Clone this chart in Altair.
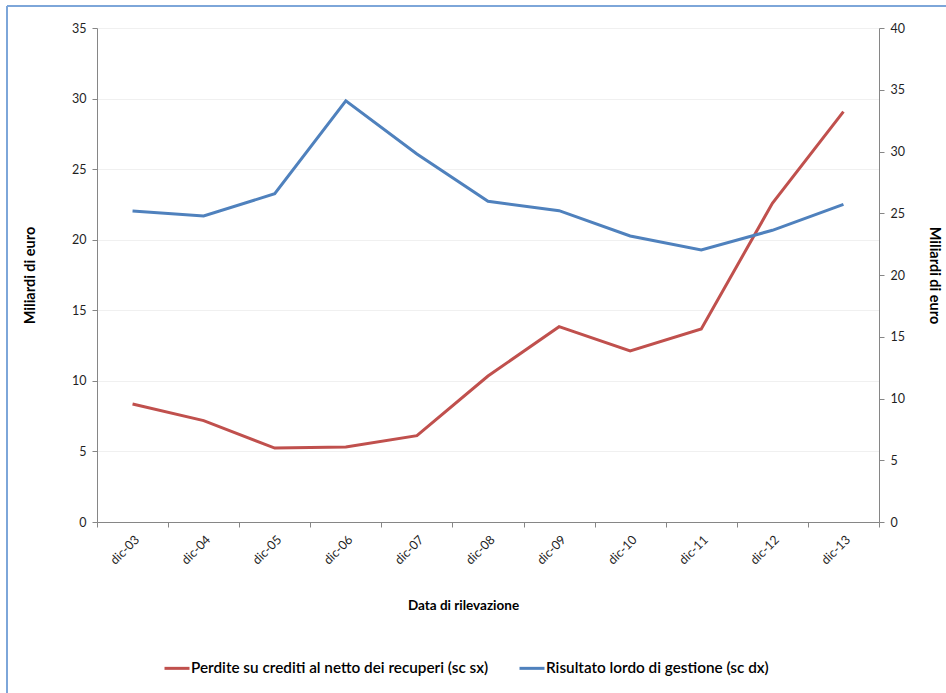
import altair as alt
import pandas as pd

# Reporting dates (December of each year)
periods = ["dic-03", "dic-04", "dic-05", "dic-06", "dic-07", "dic-08",
           "dic-09", "dic-10", "dic-11", "dic-12", "dic-13"]

# Loan losses net of recoveries (left scale, billions of euro)
perdite = [8.36, 7.18, 5.24, 5.31, 6.12, 10.34, 13.84, 12.12, 13.67, 22.58, 29.07]

# Gross operating result (right scale, billions of euro)
risultato = [25.18, 24.78, 26.58, 34.11, 29.80, 25.97, 25.21, 23.16, 22.02, 23.62, 25.72]

serie_sx = "Perdite su crediti al netto dei recuperi (sc sx)"
serie_dx = "Risultato lordo di gestione (sc dx)"

df_sx = pd.DataFrame({"periodo": periods, "valore": perdite, "serie": serie_sx})
df_dx = pd.DataFrame({"periodo": periods, "valore": risultato, "serie": serie_dx})

FONT = "Lato"
AXIS_GRAY = "#868686"
TEXT = "#1f1f1f"

color = alt.Color(
    "serie:N",
    scale=alt.Scale(domain=[serie_sx, serie_dx], range=["#c0504d", "#4f81bd"]),
    legend=alt.Legend(
        title=None, orient="none", direction="horizontal", columns=2,
        legendX=66, legendY=626, symbolType="stroke", symbolSize=625,
        symbolStrokeWidth=3, labelFont=FONT, labelFontSize=15.3,
        labelFontWeight=600, labelColor="#000000", labelOffset=0,
        columnPadding=24, padding=0, labelLimit=400,
    ),
)

x = alt.X(
    "periodo:N",
    sort=periods,
    bandPosition=0.5,
    scale=alt.Scale(type="band", paddingInner=0, paddingOuter=0),
    axis=alt.Axis(
        title="Data di rilevazione", titleFont=FONT, titleFontSize=13.5,
        titleFontWeight="bold", titleColor="#000000", titleX=366, titleY=76,
        labelAngle=-45, labelFont=FONT, labelFontSize=12.5, labelColor=TEXT,
        labelPadding=6, tickBand="extent", tickSize=5, tickColor=AXIS_GRAY,
        domainColor=AXIS_GRAY, grid=False,
    ),
)

left = alt.Chart(df_sx).mark_line(strokeWidth=3).encode(
    x=x,
    y=alt.Y(
        "valore:Q",
        scale=alt.Scale(domain=[0, 35], nice=False),
        axis=alt.Axis(
            title="Miliardi di euro", titleFont=FONT, titleFontSize=14.5,
            titleFontWeight="bold", titleColor="#000000", titlePadding=34,
            values=list(range(0, 36, 5)), labelFont=FONT, labelFontSize=12.5,
            labelColor=TEXT, labelPadding=6, tickSize=5, tickColor=AXIS_GRAY,
            domainColor=AXIS_GRAY, grid=True, gridColor="#f0f0f0",
        ),
    ),
    color=color,
)

right = alt.Chart(df_dx).mark_line(strokeWidth=3).encode(
    x=x,
    y=alt.Y(
        "valore:Q",
        scale=alt.Scale(domain=[0, 40], nice=False),
        axis=alt.Axis(
            orient="right", title="Miliardi di euro", titleFont=FONT,
            titleFontSize=14.5, titleFontWeight="bold", titleColor="#000000",
            titlePadding=22, values=list(range(0, 41, 5)), labelFont=FONT,
            labelFontSize=12.5, labelColor=TEXT, labelPadding=6, tickSize=5,
            tickColor=AXIS_GRAY, domainColor=AXIS_GRAY, grid=False,
        ),
    ),
    color=color,
)

# Thin frame along the top and left edges of the figure
frame_top = alt.Chart(df_sx).mark_rule(color="#7ea6d8", strokeWidth=1.5).encode(
    x=alt.value(-90), x2=alt.value(849), y=alt.value(-22)
)
frame_left = alt.Chart(df_sx).mark_rule(color="#7ea6d8", strokeWidth=1.5).encode(
    x=alt.value(-90), y=alt.value(-22), y2=alt.value(665)
)

chart = (
    alt.layer(left, right, frame_top, frame_left)
    .resolve_scale(y="independent")
    .properties(
        width=782, height=494,
        autosize=alt.AutoSizeParams(type="none"),
        padding={"left": 97, "top": 28, "right": 67, "bottom": 171},
        background="white",
    )
    .configure_view(stroke=None)
)

chart.save("out.html", embed_options={"renderer": "svg", "actions": False})
